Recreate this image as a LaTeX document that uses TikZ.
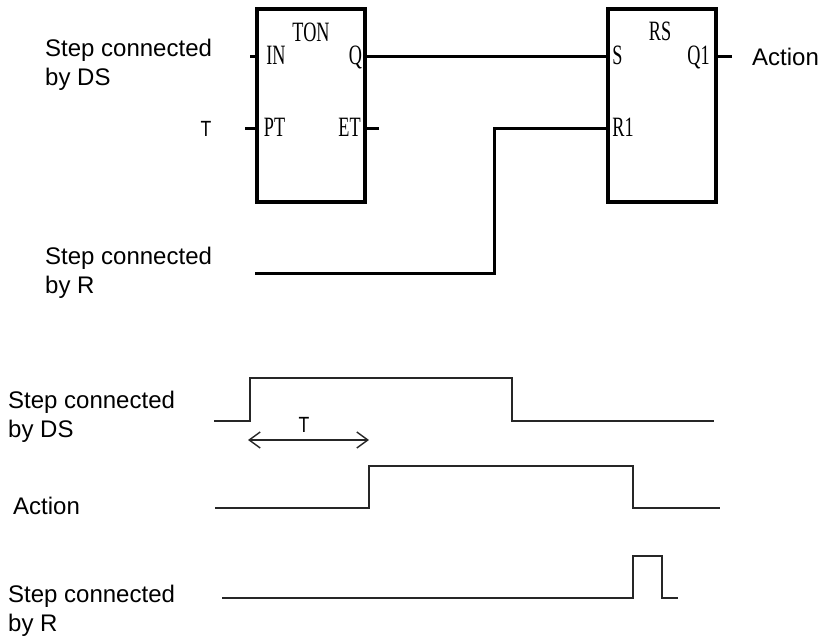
\documentclass[tikz,border=0pt]{standalone}
\usepackage{xcolor}
\usepackage{fontspec}
\usepackage{tikz}
\usetikzlibrary{arrows.meta,positioning}
\setmainfont{Liberation Sans}
\newfontfamily\pinfont[FakeStretch=0.65]{Liberation Serif}
\newfontfamily\timefont[FakeStretch=0.8]{Liberation Sans}

\begin{document}
\begin{tikzpicture}[
  x=1pt, y=-1pt,
  block/.style={draw, line width=3.2pt, minimum width=108pt, minimum height=193pt, inner sep=0pt},
  pin/.style={inner sep=0pt, anchor=base, font=\pinfont\fontsize{28}{28}\selectfont},
  timelabel/.style={inner sep=0pt, anchor=base, font=\timefont\fontsize{22}{22}\selectfont},
  caption/.style={inner sep=0pt, anchor=base west, align=left, font=\fontsize{24}{29}\selectfont},
  wire/.style={line width=3pt},
  trace/.style={line width=1.7pt, black!85},
  span/.style={line width=1.4pt, black!85, {Straight Barb[length=11pt,width=16pt]}-{Straight Barb[length=11pt,width=16pt]}}
]
\useasboundingbox (0,0) rectangle (820,636);

% function blocks
\node[block] (ton) at (311,105.5) {};
\node[block] (rs) at (662,105.5) {};
\node[pin] (tonname) at (311,42) {TON};
\node[pin] (rsname) at (660,41) {RS};
\node[pin] (in) at (276,65) {IN};
\node[pin] (pt) at (274.5,137) {PT};
\node[pin] (q) at (355.5,65) {Q};
\node[pin] (et) at (349.5,137) {ET};
\node[pin] (s) at (617.5,65) {S};
\node[pin] (r1) at (623,137) {R1};
\node[pin] (q1) at (698.5,65) {Q1};

% texts
\node[caption] (dstop) at (45,86) {Step connected\\by DS};
\node[timelabel] (tin) at (206,137) {T};
\node[caption] (rtop) at (45,294) {Step connected\\by R};
\node[caption] (actiontop) at (752,66) {Action};
\node[caption] (dsbot) at (8,438) {Step connected\\by DS};
\node[caption] (actionbot) at (13,514) {Action};
\node[caption] (rbot) at (8,631) {Step connected\\by R};

% wires
\coordinate (instub) at (250,57);
\coordinate (ptstub) at (245,129);
\coordinate (etstub) at (379,129);
\coordinate (q1stub) at (732,57);
\coordinate (rstart) at (255,274);
\draw[wire] (instub) -- (instub -| ton.west);
\draw[wire] (ptstub) -- (ptstub -| ton.west);
\draw[wire] (etstub) -- (etstub -| ton.east);
\draw[wire] (q1stub) -- (q1stub -| rs.east);
\draw[wire] (instub -| ton.east) -- (instub -| rs.west);
\draw[wire] (rstart) -- (494,274) -- (494,129) -- (ptstub -| rs.west);

% timing
\coordinate (dsa) at (214,421);
\coordinate (dsb) at (714,421);
\coordinate (aca) at (215,508);
\coordinate (acb) at (720,508);
\coordinate (ra) at (222,598);
\coordinate (rb) at (678,598);
\coordinate (ta) at (248,440);
\coordinate (tb) at (369,440);
\draw[trace] (dsa) -- (250,421) -- (250,378) -- (512,378) -- (512,421) -- (dsb);
\draw[trace] (aca) -- (369,508) -- (369,466) -- (633,466) -- (633,508) -- (acb);
\draw[trace] (ra) -- (633,598) -- (633,556) -- (662,556) -- (662,598) -- (rb);
\draw[span] (ta) -- (tb);
\node[timelabel] (tlabel) at (304,433) {T};
\end{tikzpicture}
\end{document}
